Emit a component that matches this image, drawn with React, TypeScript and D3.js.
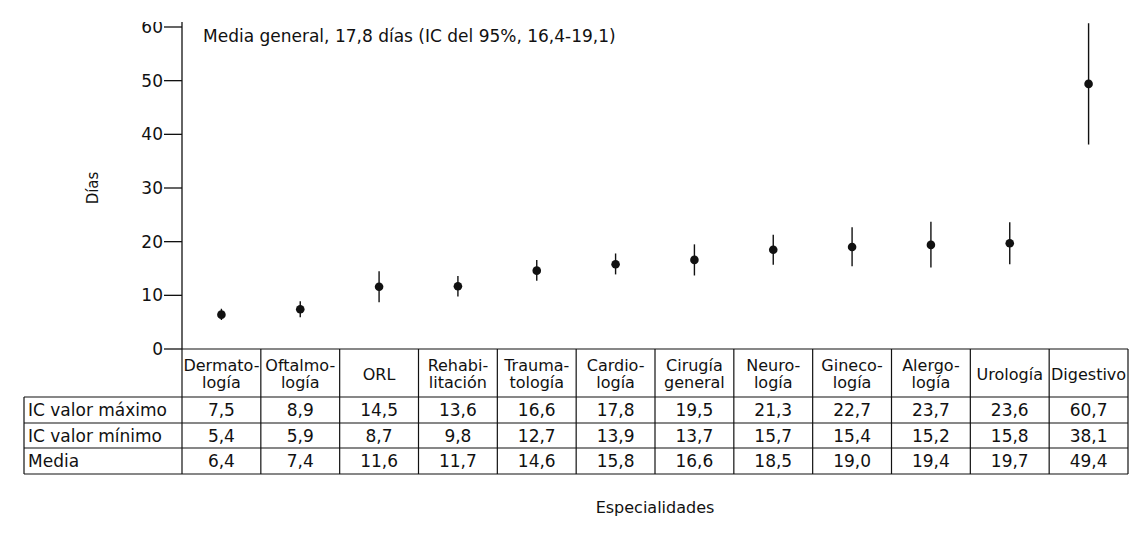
import React from "react";
import * as d3 from "d3";

const categories: string[][] = [
  ["Dermato-", "logía"],
  ["Oftalmo-", "logía"],
  ["ORL"],
  ["Rehabi-", "litación"],
  ["Trauma-", "tología"],
  ["Cardio-", "logía"],
  ["Cirugía", "general"],
  ["Neuro-", "logía"],
  ["Gineco-", "logía"],
  ["Alergo-", "logía"],
  ["Urología"],
  ["Digestivo"],
];
const icMax = [7.5, 8.9, 14.5, 13.6, 16.6, 17.8, 19.5, 21.3, 22.7, 23.7, 23.6, 60.7];
const icMin = [5.4, 5.9, 8.7, 9.8, 12.7, 13.9, 13.7, 15.7, 15.4, 15.2, 15.8, 38.1];
const media = [6.4, 7.4, 11.6, 11.7, 14.6, 15.8, 16.6, 18.5, 19.0, 19.4, 19.7, 49.4];
const yTicks = [0, 10, 20, 30, 40, 50, 60];
const rowLabels = ["IC valor máximo", "IC valor mínimo", "Media"];
const rowValues = [icMax, icMin, media];
const title = "Media general, 17,8 días (IC del 95%, 16,4-19,1)";
const yLabel = "Días";
const xLabel = "Especialidades";

const FONT = "'DejaVu Sans', sans-serif";
const fmt = (v: number) => v.toFixed(1).replace(".", ",");

export default function App() {
  const W = 1147, H = 536;
  const x0 = 182, x1 = 1128;
  const tableLeft = 24;
  const y = d3.scaleLinear().domain([0, 60]).range([349, 27]);
  const x = d3.scaleBand<number>().domain(d3.range(categories.length)).range([x0, x1]).padding(0);
  const headerTop = y(0), headerBottom = 397;
  const rowEdges = [397, 423, 448, 474];
  const clipTop = 22;

  return (
    <svg width={W} height={H} style={{ position: "absolute", left: 0, top: 0, background: "#fff" }}
      fontFamily={FONT}>
      <defs>
        <clipPath id="clip">
          <rect x={0} y={clipTop} width={W} height={H - clipTop} />
        </clipPath>
      </defs>
      <rect width={W} height={H} fill="#fff" />
      <g clipPath="url(#clip)">
        {/* y axis */}
        <line x1={x0} x2={x0} y1={clipTop} y2={y(0)} stroke="#111" strokeWidth={1.3} />
        {yTicks.map((t) => (
          <g key={t}>
            <line x1={x0 - 18} x2={x0} y1={y(t)} y2={y(t)} stroke="#111" strokeWidth={1.3} />
            <text x={x0 - 19} y={y(t)} dy="0.36em" textAnchor="end" fontSize={17} fill="#111">{t}</text>
          </g>
        ))}
        {/* error bars */}
        {media.map((m, i) => {
          const cx = x(i)! + x.bandwidth() / 2;
          return (
            <g key={i}>
              <line x1={cx} x2={cx} y1={y(icMax[i])} y2={y(icMin[i])} stroke="#111" strokeWidth={1.4} />
              <circle cx={cx} cy={y(m)} r={4.3} fill="#111" />
            </g>
          );
        })}
      </g>
      <text x={203} y={42} fontSize={17} fill="#111">{title}</text>
      <text transform={`translate(98,${y(30)}) rotate(-90)`} textAnchor="middle" fontSize={15} fill="#111">{yLabel}</text>

      {/* table */}
      <g stroke="#111" strokeWidth={1.2} fill="none">
        <line x1={x0} x2={x1} y1={headerTop} y2={headerTop} />
        {rowEdges.map((ry, k) => (
          <line key={k} x1={tableLeft} x2={x1} y1={ry} y2={ry} />
        ))}
        <line x1={tableLeft} x2={tableLeft} y1={headerBottom} y2={rowEdges[3]} />
        {d3.range(categories.length + 1).map((i) => {
          const bx = i < categories.length ? x(i)! : x1;
          return <line key={i} x1={bx} x2={bx} y1={headerTop} y2={rowEdges[3]} />;
        })}
      </g>
      {categories.map((lines, i) => {
        const cx = x(i)! + x.bandwidth() / 2;
        return (
          <text key={i} x={cx} textAnchor="middle" fontSize={16} fill="#111">
            {lines.length === 1 ? (
              <tspan x={cx} y={380}>{lines[0]}</tspan>
            ) : (
              <>
                <tspan x={cx} y={371}>{lines[0]}</tspan>
                <tspan x={cx} y={388}>{lines[1]}</tspan>
              </>
            )}
          </text>
        );
      })}
      {rowLabels.map((lab, r) => {
        const cy = (rowEdges[r] + rowEdges[r + 1]) / 2;
        return (
          <g key={lab}>
            <text x={tableLeft + 4} y={cy} dy="0.36em" fontSize={17} fill="#111">{lab}</text>
            {rowValues[r].map((v, i) => (
              <text key={i} x={x(i)! + x.bandwidth() / 2} y={cy} dy="0.36em" textAnchor="middle" fontSize={17} fill="#111">{fmt(v)}</text>
            ))}
          </g>
        );
      })}
      <text x={(x0 + x1) / 2} y={513} textAnchor="middle" fontSize={16} fill="#111">{xLabel}</text>
    </svg>
  );
}
